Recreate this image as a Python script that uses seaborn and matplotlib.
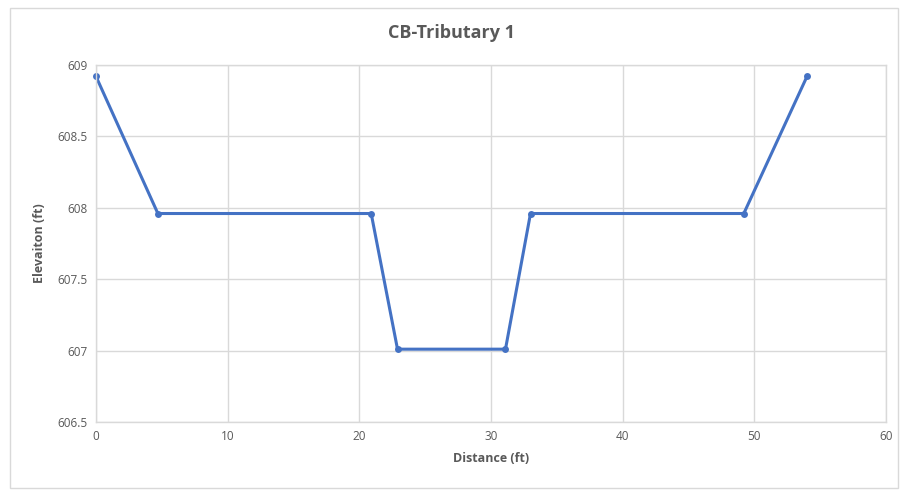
import seaborn as sns
import pandas as pd
import matplotlib.pyplot as plt
from matplotlib.patches import Rectangle

distance = [0, 4.7, 20.9, 22.9, 31.1, 33.0, 49.2, 54.0]
elevation = [608.92, 607.96, 607.96, 607.01, 607.01, 607.96, 607.96, 608.92]
x_ticks = [0, 10, 20, 30, 40, 50, 60]
y_ticks = [606.5, 607, 607.5, 608, 608.5, 609]
y_labels = ["606.5", "607", "607.5", "608", "608.5", "609"]

df = pd.DataFrame({"Distance": distance, "Elevation": elevation})

sns.set_theme(style="white")
plt.rcParams['font.family'] = ['Open Sans', 'DejaVu Sans']

fig = plt.figure(figsize=(9.02, 4.91), dpi=100)
ax = fig.add_axes([96 / 902, 1 - 422 / 491, 790 / 902, 357 / 491])

# chart frame like the spreadsheet chart object
fig.patches.append(Rectangle((10 / 902, 3 / 491), 888 / 902, 480 / 491,
                             transform=fig.transFigure, fill=False,
                             edgecolor="#d9d9d9", linewidth=1))

grey = "#595959"
sns.lineplot(data=df, x="Distance", y="Elevation", sort=False, ax=ax,
             color="#4472C4", linewidth=2.2, marker="o", markersize=5,
             markeredgewidth=0, clip_on=False)

ax.set_xlim(0, 60)
ax.set_ylim(606.5, 609)
ax.set_xticks(x_ticks)
ax.set_yticks(y_ticks)
ax.set_yticklabels(y_labels)
ax.grid(True, color="#d9d9d9", linewidth=1)
for s in ax.spines.values():
    s.set_color("#d9d9d9")
    s.set_linewidth(1)
ax.tick_params(axis="both", colors=grey, labelsize=8.5, length=0, pad=6)

ax.set_xlabel("Distance (ft)", color=grey, fontsize=9, fontweight="bold", labelpad=6)
ax.set_ylabel("Elevaiton (ft)", color=grey, fontsize=9, fontweight="bold", labelpad=8)
fig.text(0.5, 1 - 33 / 491, "CB-Tributary 1", ha="center", va="center",
         color=grey, fontsize=13, fontweight="bold")

fig.savefig("out.png", dpi=100)
